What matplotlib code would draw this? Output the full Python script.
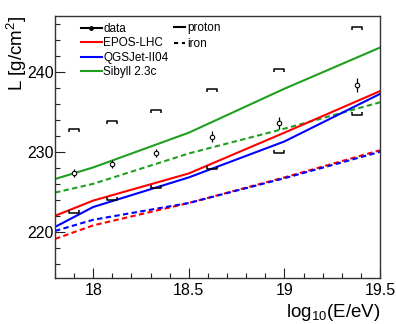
import matplotlib
matplotlib.use('Agg')
import matplotlib.pyplot as plt
from matplotlib.lines import Line2D
from matplotlib.path import Path
from matplotlib.ticker import MultipleLocator

plt.rcParams['font.family'] = ['Liberation Sans', 'DejaVu Sans']
plt.rcParams['mathtext.fontset'] = 'custom'
plt.rcParams['mathtext.rm'] = 'Liberation Sans'
plt.rcParams['mathtext.it'] = 'Liberation Sans:italic'

# measured points
data_x = [17.90, 18.10, 18.33, 18.62, 18.97, 19.38]
data_L = [227.3, 228.5, 229.8, 231.9, 233.6, 238.4]
data_err = [0.5, 0.5, 0.5, 0.7, 0.8, 0.9]
sys_up = [232.8, 233.8, 235.2, 237.9, 240.4, 245.6]
sys_lo = [222.4, 224.0, 225.5, 227.9, 229.8, 234.6]

# model predictions
model_x = [17.8, 18.0, 18.5, 19.0, 19.5]
epos_p = [222.0, 223.9, 227.3, 232.4, 237.6]
qgs_p = [220.6, 223.1, 226.8, 231.3, 237.25]
sib_p = [226.6, 228.05, 232.4, 237.9, 243.05]
epos_fe = [219.1, 220.8, 223.6, 226.8, 230.2]
qgs_fe = [220.1, 221.5, 223.6, 226.7, 230.0]
sib_fe = [224.9, 226.0, 229.8, 232.9, 236.2]

RED = '#ff0000'
BLUE = '#0000ff'
GREEN = '#1f9f1f'
DASH = (0, (2.6, 1.6))

fig = plt.figure(figsize=(3.96, 3.24), dpi=100)
ax = fig.add_axes([0.1389, 0.1429, 0.8207, 0.8077])

lw = 1.5
ax.plot(model_x, sib_p, color=GREEN, lw=lw)
ax.plot(model_x, sib_fe, color=GREEN, lw=lw, ls=DASH)
ax.plot(model_x, epos_p, color=RED, lw=lw)
ax.plot(model_x, qgs_p, color=BLUE, lw=lw)
ax.plot(model_x, epos_fe, color=RED, lw=lw, ls=DASH)
ax.plot(model_x, qgs_fe, color=BLUE, lw=lw, ls=DASH)

# systematic brackets
up_mark = Path([(-1, -0.7), (-1, 0), (1, 0), (1, -0.7)],
               [Path.MOVETO, Path.LINETO, Path.LINETO, Path.LINETO])
lo_mark = Path([(-1, 0.7), (-1, 0), (1, 0), (1, 0.7)],
               [Path.MOVETO, Path.LINETO, Path.LINETO, Path.LINETO])
ax.plot(data_x, sys_up, ls='none', marker=up_mark, ms=6.5, mfc='none',
        mec='black', mew=1.1)
ax.plot(data_x, sys_lo, ls='none', marker=lo_mark, ms=6.5, mfc='none',
        mec='black', mew=1.1)

ax.errorbar(data_x, data_L, yerr=data_err, fmt='o', ms=3.2, mfc='white',
            mec='black', mew=0.8, ecolor='black', elinewidth=0.9, capsize=0,
            zorder=5)

ax.set_xlim(17.8, 19.5)
ax.set_ylim(214.25, 247.0)
ax.xaxis.set_major_locator(MultipleLocator(0.5))
ax.xaxis.set_minor_locator(MultipleLocator(0.1))
ax.yaxis.set_major_locator(MultipleLocator(10))
ax.yaxis.set_minor_locator(MultipleLocator(2))
ax.tick_params(which='both', direction='in', width=0.8, colors='#222222',
               labelsize=11.5, labelcolor='black')
ax.tick_params(which='major', length=7.2)
ax.tick_params(which='minor', length=3.6)
ax.tick_params(axis='y', pad=1)
ax.tick_params(axis='x', pad=4)
ax.set_xticks([18, 18.5, 19, 19.5])
ax.set_xticklabels(['18', '18.5', '19', '19.5'])
for s in ax.spines.values():
    s.set_color('#333333')
    s.set_linewidth(1.0)

ax.set_xlabel('log$_{10}$(E/eV)', fontsize=13.5, loc='right')
ax.xaxis.set_label_coords(1.0, -0.093)
ax.set_ylabel('L [g/cm$^2$]', fontsize=13.5, loc='top')
ax.yaxis.set_label_coords(-0.08, 1.0)

# legends
h1 = [Line2D([], [], color='black', lw=1.5, marker='o', ms=2.5),
      Line2D([], [], color=RED, lw=1.5),
      Line2D([], [], color=BLUE, lw=1.5),
      Line2D([], [], color=GREEN, lw=1.5)]
l1 = ['data', 'EPOS-LHC', 'QGSJet-II04', 'Sibyll 2.3c']
leg1 = ax.legend(h1, l1, loc='upper left', bbox_to_anchor=(0.056, 1.003),
                 frameon=False, fontsize=8.5, handlelength=1.75,
                 handletextpad=0.15, labelspacing=0.21, borderaxespad=0.25,
                 numpoints=1)
ax.add_artist(leg1)
h2 = [Line2D([], [], color='black', lw=1.5),
      Line2D([], [], color='black', lw=1.5, ls=(0, (2.0, 1.8)))]
l2 = ['proton', 'iron']
ax.legend(h2, l2, loc='upper left', bbox_to_anchor=(0.342, 1.005),
          frameon=False, fontsize=8.5, handlelength=0.95,
          handletextpad=0.15, labelspacing=0.3, borderaxespad=0.25)

fig.savefig('out.png', dpi=100)
